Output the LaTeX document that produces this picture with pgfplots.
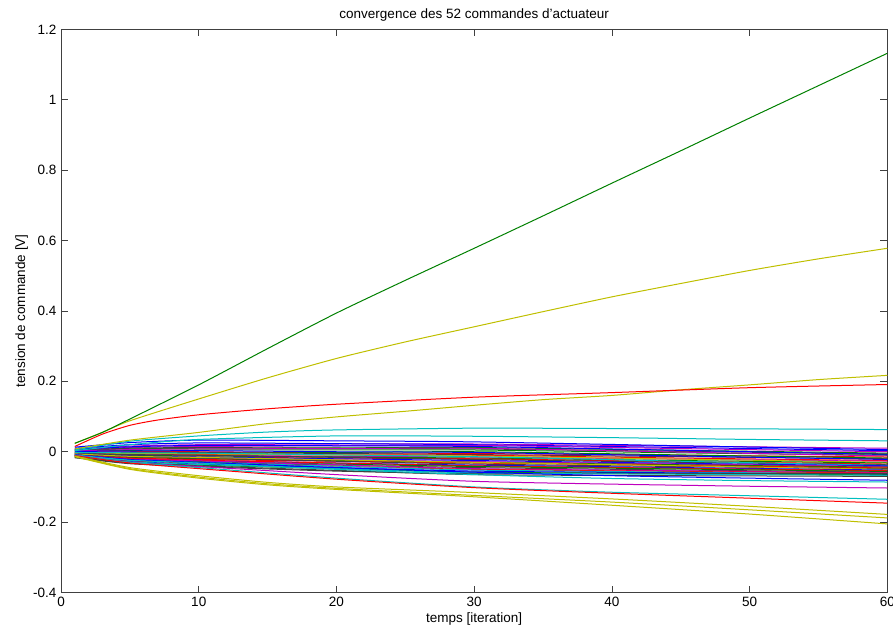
\documentclass[border=0pt]{standalone}
\usepackage{pgfplots}
\pgfplotsset{compat=1.18}
\usepackage{fontspec}
\setmainfont{Liberation Sans}
\definecolor{mb}{rgb}{0,0,1}
\definecolor{mg}{rgb}{0,0.5,0}
\definecolor{mr}{rgb}{1,0,0}
\definecolor{mc}{rgb}{0,0.75,0.75}
\definecolor{mm}{rgb}{0.75,0,0.75}
\definecolor{my}{rgb}{0.75,0.75,0}
\definecolor{mk}{rgb}{0.25,0.25,0.25}
\begin{document}
\fontsize{13.5}{16}\selectfont
\begin{tikzpicture}
\begin{axis}[name=ax, scale only axis, width=826pt, height=563pt,
  xmin=0, xmax=60, ymin=-0.4, ymax=1.2,
  xtick={0,10,20,30,40,50,60},
  ytick={-0.4,-0.2,0,0.2,0.4,0.6,0.8,1,1.2},
  tick align=inside, major tick length=7pt,
  axis line style={line width=0.8pt, black!75},
  every tick/.style={black!75, line width=0.8pt},
  /pgf/number format/assume math mode=true,
  tick label style={font=\fontsize{13.5}{16}\selectfont},
  title={convergence des 52 commandes d'actuateur},
  title style={yshift=-3pt},
  xlabel={temps [iteration]},
  ylabel={tension de commande [V]},
  xlabel style={yshift=3pt},
  ylabel style={yshift=-4pt},
  every axis plot/.append style={line width=1pt, mark=none, smooth, tension=0.4},
]
% band lines
\addplot[mm] coordinates {(1,0.008)(5,0.016)(10,0.020)(20,0.022)(30,0.022)(45,0.016)(60,0.010)};
\addplot[mb] coordinates {(1,0.013)(5,0.026)(10,0.033)(20,0.031)(30,0.028)(45,0.017)(60,0.006)};
\addplot[mb] coordinates {(1,0.010)(5,0.020)(10,0.025)(20,0.023)(30,0.020)(45,0.012)(60,0.003)};
\addplot[mm] coordinates {(1,0.006)(5,0.012)(10,0.015)(20,0.017)(30,0.018)(45,0.009)(60,0.000)};
\addplot[mg] coordinates {(1,0.004)(5,0.008)(10,0.010)(20,0.011)(30,0.012)(45,0.004)(60,-0.004)};
\addplot[mk] coordinates {(1,0.005)(5,0.010)(10,0.012)(20,0.010)(30,0.008)(45,0.001)(60,-0.006)};
\addplot[mb] coordinates {(1,0.007)(5,0.014)(10,0.018)(20,0.017)(30,0.015)(45,0.004)(60,-0.008)};
\addplot[mg] coordinates {(1,0.002)(5,0.004)(10,0.005)(20,0.005)(30,0.005)(45,-0.003)(60,-0.010)};
\addplot[mm] coordinates {(1,0.003)(5,0.006)(10,0.008)(20,0.009)(30,0.010)(45,-0.001)(60,-0.012)};
\addplot[mr] coordinates {(1,0.000)(5,0.000)(10,0.000)(20,-0.003)(30,-0.005)(45,-0.010)(60,-0.015)};
\addplot[mg] coordinates {(1,-0.002)(5,-0.004)(10,-0.005)(20,-0.002)(30,0.000)(45,-0.009)(60,-0.018)};
\addplot[mk] coordinates {(1,-0.001)(5,-0.002)(10,-0.002)(20,-0.005)(30,-0.008)(45,-0.014)(60,-0.020)};
\addplot[mb] coordinates {(1,0.001)(5,0.002)(10,0.003)(20,0.000)(30,-0.002)(45,-0.012)(60,-0.022)};
\addplot[mr] coordinates {(1,-0.003)(5,-0.006)(10,-0.008)(20,-0.009)(30,-0.010)(45,-0.018)(60,-0.025)};
\addplot[mm] coordinates {(1,-0.004)(5,-0.008)(10,-0.010)(20,-0.013)(30,-0.015)(45,-0.021)(60,-0.027)};
\addplot[my] coordinates {(1,-0.002)(5,-0.005)(10,-0.006)(20,-0.009)(30,-0.012)(45,-0.021)(60,-0.030)};
\addplot[mg] coordinates {(1,-0.005)(5,-0.010)(10,-0.012)(20,-0.015)(30,-0.018)(45,-0.025)(60,-0.032)};
\addplot[mr] coordinates {(1,-0.006)(5,-0.012)(10,-0.015)(20,-0.018)(30,-0.020)(45,-0.028)(60,-0.035)};
\addplot[mk] coordinates {(1,-0.004)(5,-0.008)(10,-0.010)(20,-0.016)(30,-0.022)(45,-0.030)(60,-0.037)};
\addplot[mc] coordinates {(1,-0.002)(5,-0.003)(10,-0.004)(20,-0.009)(30,-0.014)(45,-0.027)(60,-0.039)};
\addplot[mb] coordinates {(1,-0.006)(5,-0.012)(10,-0.015)(20,-0.020)(30,-0.025)(45,-0.033)(60,-0.040)};
\addplot[mm] coordinates {(1,-0.007)(5,-0.014)(10,-0.018)(20,-0.023)(30,-0.028)(45,-0.035)(60,-0.042)};
\addplot[mg] coordinates {(1,-0.008)(5,-0.016)(10,-0.020)(20,-0.025)(30,-0.030)(45,-0.037)(60,-0.044)};
\addplot[mr] coordinates {(1,-0.009)(5,-0.018)(10,-0.022)(20,-0.027)(30,-0.032)(45,-0.039)(60,-0.046)};
\addplot[mk] coordinates {(1,-0.007)(5,-0.014)(10,-0.018)(20,-0.027)(30,-0.035)(45,-0.042)(60,-0.048)};
\addplot[my] coordinates {(1,-0.006)(5,-0.013)(10,-0.016)(20,-0.023)(30,-0.030)(45,-0.040)(60,-0.050)};
\addplot[mb] coordinates {(1,-0.010)(5,-0.020)(10,-0.025)(20,-0.032)(30,-0.038)(45,-0.045)(60,-0.052)};
\addplot[mr] coordinates {(1,-0.010)(5,-0.019)(10,-0.024)(20,-0.032)(30,-0.040)(45,-0.047)(60,-0.054)};
\addplot[mg] coordinates {(1,-0.011)(5,-0.022)(10,-0.028)(20,-0.035)(30,-0.042)(45,-0.049)(60,-0.056)};
\addplot[mk] coordinates {(1,-0.012)(5,-0.024)(10,-0.030)(20,-0.038)(30,-0.045)(45,-0.052)(60,-0.058)};
\addplot[mm] coordinates {(1,-0.010)(5,-0.021)(10,-0.026)(20,-0.037)(30,-0.048)(45,-0.054)(60,-0.060)};
\addplot[mr] coordinates {(1,-0.013)(5,-0.026)(10,-0.032)(20,-0.041)(30,-0.050)(45,-0.056)(60,-0.061)};
\addplot[mc] coordinates {(1,-0.012)(5,-0.024)(10,-0.030)(20,-0.041)(30,-0.052)(45,-0.058)(60,-0.063)};
\addplot[mb] coordinates {(1,-0.014)(5,-0.028)(10,-0.035)(20,-0.045)(30,-0.055)(45,-0.060)(60,-0.064)};
\addplot[mg] coordinates {(1,-0.015)(5,-0.030)(10,-0.038)(20,-0.048)(30,-0.058)(45,-0.062)(60,-0.066)};
\addplot[mk] coordinates {(1,-0.017)(5,-0.034)(10,-0.042)(20,-0.055)(30,-0.062)(45,-0.062)(60,-0.062)};
\addplot[mc] coordinates {(1,-0.014)(5,-0.029)(10,-0.036)(20,-0.048)(30,-0.060)(45,-0.064)(60,-0.067)};
\addplot[mk] coordinates {(1,-0.016)(5,-0.032)(10,-0.040)(20,-0.053)(30,-0.065)(45,-0.068)(60,-0.070)};
% outliers
\addplot[mb] coordinates {(1,-0.008)(5,-0.022)(10,-0.030)(20,-0.045)(30,-0.058)(40,-0.068)(50,-0.075)(60,-0.081)};
\addplot[mc] coordinates {(1,-0.009)(5,-0.024)(10,-0.032)(20,-0.050)(30,-0.065)(40,-0.076)(50,-0.082)(60,-0.086)};
\addplot[mm] coordinates {(1,-0.010)(5,-0.030)(10,-0.042)(20,-0.065)(30,-0.084)(40,-0.092)(50,-0.098)(60,-0.103)};
\addplot[mc] coordinates {(1,-0.011)(5,-0.030)(10,-0.045)(20,-0.075)(30,-0.100)(40,-0.115)(50,-0.125)(60,-0.135)};
\addplot[mr] coordinates {(1,-0.011)(5,-0.032)(10,-0.048)(20,-0.078)(30,-0.102)(40,-0.118)(50,-0.132)(60,-0.146)};
\addplot[my] coordinates {(1,-0.012)(5,-0.045)(10,-0.068)(15,-0.087)(20,-0.100)(30,-0.116)(40,-0.134)(50,-0.155)(60,-0.178)};
\addplot[my] coordinates {(1,-0.013)(5,-0.048)(10,-0.072)(15,-0.091)(20,-0.104)(30,-0.124)(40,-0.143)(50,-0.165)(60,-0.188)};
\addplot[my] coordinates {(1,-0.014)(5,-0.050)(10,-0.075)(15,-0.094)(20,-0.107)(30,-0.128)(40,-0.152)(50,-0.177)(60,-0.205)};
\addplot[mc] coordinates {(1,0.003)(5,0.020)(10,0.035)(20,0.045)(30,0.044)(40,0.040)(50,0.035)(60,0.031)};
\addplot[mc] coordinates {(1,0.005)(5,0.030)(10,0.045)(15,0.056)(20,0.062)(30,0.067)(40,0.066)(50,0.065)(60,0.063)};
\addplot[my] coordinates {(1,0.008)(5,0.033)(10,0.055)(15,0.080)(20,0.099)(25,0.115)(30,0.132)(35,0.148)(40,0.160)(45,0.176)(50,0.190)(55,0.205)(60,0.217)};
\addplot[mr] coordinates {(1,0.015)(3,0.050)(5,0.075)(7,0.090)(10,0.105)(15,0.122)(20,0.135)(30,0.155)(40,0.168)(50,0.182)(60,0.191)};
\addplot[my] coordinates {(1,0.024)(3,0.055)(5,0.088)(10,0.150)(15,0.210)(20,0.265)(25,0.312)(30,0.355)(35,0.398)(40,0.440)(45,0.478)(50,0.515)(55,0.548)(60,0.578)};
\addplot[mg] coordinates {(1,0.024)(3,0.055)(5,0.093)(10,0.190)(15,0.293)(20,0.394)(25,0.487)(30,0.578)(35,0.670)(40,0.763)(45,0.855)(50,0.948)(55,1.040)(60,1.132)};
\end{axis}
\pgfresetboundingbox
\path[use as bounding box] ([shift={(-61pt,-41pt)}]ax.south west) rectangle ([shift={(5.6pt,29.3pt)}]ax.north east);
\end{tikzpicture}
\end{document}
